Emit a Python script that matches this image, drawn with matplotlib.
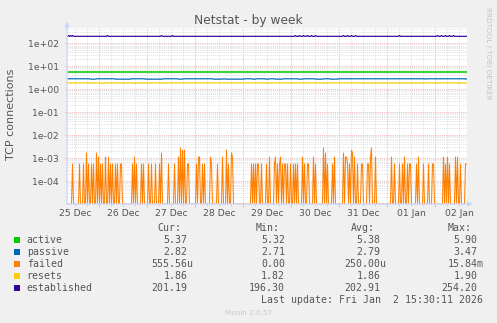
import numpy as np
import matplotlib
matplotlib.use('Agg')
import matplotlib.pyplot as plt
from matplotlib.ticker import FixedLocator, LogLocator, NullFormatter, FuncFormatter, MultipleLocator
import matplotlib.transforms as mtransforms

# ---------------- data ----------------
# time axis: hours since 25 Dec 00:00, one sample per 30 minutes
t_start, t_end = 8.0, 208.0
n_samples = 400
day_labels = ['25 Dec', '26 Dec', '27 Dec', '28 Dec', '29 Dec', '30 Dec', '31 Dec', '01 Jan', '02 Jan']
y_tick_values = [1e-4, 1e-3, 1e-2, 1e-1, 1e0, 1e1, 1e2]

series_names = ['active', 'passive', 'failed', 'resets', 'established']
series_colors = ['#00CC00', '#0066B3', '#FF8000', '#FFCC00', '#330099']

active_level = 5.37

passive_level = 2.84
passive_low = 2.74
passive_low_ranges = [(23, 28), (48, 63), (78, 95), (111, 115), (146, 155), (158, 176), (185, 188),
                      (198, 201), (208, 215), (231, 235), (248, 255), (263, 270), (358, 358), (398, 398)]

resets_level = 1.87
resets_low = 1.80
resets_low_idx = [25, 35, 36, 37, 53, 65, 66, 68, 70, 83, 98, 201, 223, 256, 258, 295, 297, 305, 307,
                  315, 317, 320, 326, 329, 331, 338, 345, 355, 371, 390]

established_level = 201.0
established_bumps = {1: 218, 3: 218, 5: 218, 40: 218, 94: 218, 105: 218, 228: 218, 232: 218, 236: 218,
                     240: 218, 244: 218, 248: 218, 276: 218, 280: 218, 284: 218, 288: 218, 332: 218,
                     370: 218, 374: 218, 378: 218, 382: 218, 386: 218}

# failed connection attempts per 30-minute sample
failed_counts = {5: 1, 12: 1, 16: 1, 19: 3, 21: 1, 24: 1, 26: 1, 29: 3, 31: 2, 33: 1, 35: 1, 38: 2,
                 41: 2, 43: 1, 45: 1, 48: 1, 50: 1, 53: 1, 54: 1, 65: 1, 67: 2, 69: 1, 74: 1, 76: 1,
                 81: 1, 84: 1, 88: 1, 92: 1, 94: 3, 101: 1, 107: 1, 111: 2, 113: 5, 115: 4, 117: 4,
                 120: 1, 121: 1, 129: 1, 131: 2, 132: 2, 135: 1, 137: 1, 143: 2, 144: 1, 150: 1,
                 155: 2, 159: 4, 161: 1, 164: 3, 165: 2, 184: 1, 186: 1, 188: 1, 190: 1, 191: 1,
                 194: 1, 199: 1, 202: 2, 207: 1, 208: 2, 210: 1, 212: 1, 213: 2, 215: 1, 217: 1,
                 218: 1, 220: 1, 223: 1, 226: 1, 228: 1, 230: 1, 235: 2, 237: 1, 240: 1, 241: 1,
                 246: 2, 248: 1, 256: 5, 258: 3, 260: 1, 265: 1, 267: 2, 276: 3, 278: 2, 279: 2,
                 280: 1, 282: 1, 284: 4, 285: 3, 287: 2, 290: 1, 294: 1, 295: 1, 300: 1, 301: 1,
                 303: 2, 304: 5, 308: 2, 324: 2, 327: 1, 332: 1, 335: 1, 337: 2, 340: 1, 342: 1,
                 343: 1, 349: 1, 351: 2, 356: 1, 361: 1, 365: 1, 366: 1, 376: 2, 378: 1, 380: 2,
                 382: 1, 388: 2, 390: 2, 393: 1, 398: 1, 399: 1}

cur_vals = [5.37, 2.82, 555.56e-6, 1.86, 201.19]
min_vals = [5.32, 2.71, 0.0, 1.82, 196.30]
avg_vals = [5.38, 2.79, 250.00e-6, 1.86, 202.91]
max_vals = [5.90, 3.47, 15.84e-3, 1.90, 254.20]
last_update = 'Last update: Fri Jan  2 15:30:11 2026'

# ---------------- build series ----------------
t = t_start + 0.5 * np.arange(n_samples) + 0.25
active = np.full(n_samples, active_level)
passive = np.full(n_samples, passive_level)
for a, b in passive_low_ranges:
    passive[a:b + 1] = passive_low
resets = np.full(n_samples, resets_level)
resets[resets_low_idx] = resets_low
established = np.full(n_samples, established_level)
for k, v in established_bumps.items():
    established[k] = v
failed = np.zeros(n_samples)
for k, v in failed_counts.items():
    failed[k] = v / 1800.0

# ---------------- figure ----------------
W, H, DPI = 497, 323, 100
TXT = '#555555'
fig = plt.figure(figsize=(W / DPI, H / DPI), dpi=DPI, facecolor='#F0F0F0')

PX_L, PX_R, PX_T, PX_B = 67, 467, 28, 204
ax = fig.add_axes([PX_L / W, 1 - PX_B / H, (PX_R - PX_L) / W, (PX_B - PX_T) / H])
ax.set_facecolor('white')

ymin = 1e-5
ymax = 10 ** (-5 + (PX_B - PX_T) / 22.96)
ax.set_yscale('log')
ax.set_xlim(t_start, t_end)
ax.set_ylim(ymin, ymax)

for s in ax.spines.values():
    s.set_visible(False)

# grid
ax.xaxis.set_major_locator(FixedLocator(np.arange(24, t_end, 24)))
ax.xaxis.set_minor_locator(MultipleLocator(6))
ax.xaxis.set_major_formatter(NullFormatter())
ax.yaxis.set_major_locator(FixedLocator(y_tick_values))
ax.yaxis.set_minor_locator(LogLocator(base=10, subs=np.arange(2, 10), numticks=20))
ax.yaxis.set_minor_formatter(NullFormatter())
ax.yaxis.set_major_formatter(FuncFormatter(lambda v, p: format(v, '.0e')))

dot = (0, (1.4, 1.4))
ax.grid(True, which='minor', color='#DADADA', linestyle=dot, linewidth=0.55)
ax.grid(True, which='major', color='#F0A8A8', linestyle=dot, linewidth=0.55)
ax.set_axisbelow(True)

ax.tick_params(axis='x', which='major', length=2, color='#F0A8A8', width=0.6)
ax.tick_params(axis='x', which='minor', length=1.2, color='#CCCCCC', width=0.6)
ax.tick_params(axis='y', which='major', length=1.5, color='#F0A8A8', width=0.6,
               labelsize=6.7, labelcolor=TXT, pad=4.5)
ax.tick_params(axis='y', which='minor', length=0)

# series
lw = 0.85
ax.plot(t, active, color=series_colors[0], lw=1.1, zorder=3)
ax.plot(t, passive, color=series_colors[1], lw=lw, zorder=3)
ax.plot(t, np.clip(failed, ymin, None), color=series_colors[2], lw=0.75, zorder=3)
ax.plot(t, resets, color=series_colors[3], lw=lw, zorder=3)
ax.plot(t, established, color=series_colors[4], lw=lw, zorder=3)

# axis lines with arrows
axis_col = '#CFD6F8'
ax.annotate('', xy=(0, (PX_B - 21.5) / (PX_B - PX_T)), xytext=(0, 0), xycoords='axes fraction',
            arrowprops=dict(arrowstyle='-|>', color=axis_col, lw=1, mutation_scale=7,
                            shrinkA=0, shrinkB=0), annotation_clip=False, zorder=5)
ax.annotate('', xy=((473 - PX_L) / (PX_R - PX_L), 0), xytext=(0, 0), xycoords='axes fraction',
            arrowprops=dict(arrowstyle='-|>', color=axis_col, lw=1, mutation_scale=7,
                            shrinkA=0, shrinkB=0), annotation_clip=False, zorder=5)

# day labels at noon
trans = mtransforms.blended_transform_factory(ax.transData, fig.transFigure)
for k, lab in enumerate(day_labels):
    ax.text(12 + 24 * k, 1 - 215.7 / H, lab, transform=trans, ha='center', va='baseline',
            fontsize=6.7, color=TXT, clip_on=False)

# titles
fig.text(248.5 / W, 1 - 24 / H, 'Netstat - by week', ha='center', va='baseline',
         fontsize=8.8, color=TXT)
fig.text(11 / W, 1 - 114 / H, 'TCP connections', rotation=90, ha='center', va='center',
         fontsize=8, color=TXT)
fig.text(488 / W, 1 - 53 / H, 'RRDTOOL / TOBI OETIKER', rotation=270, ha='center', va='center',
         fontsize=5.2, color='#C4C4C4')

# legend
LFS = 7.1
MONO = 'DejaVu Sans Mono'
char_w = 0.602 * LFS * DPI / 72.0


def si(v):
    if v == 0:
        return '%.2f' % 0.0, ' '
    av = abs(v)
    if av >= 1:
        return '%.2f' % v, ' '
    if av >= 1e-3:
        return '%.2f' % (v * 1e3), 'm'
    return '%.2f' % (v * 1e6), 'u'


col_edges = [193.5, 291.0, 386.7, 483.3]
headers = ['Cur:', 'Min:', 'Avg:', 'Max:']
for h, e in zip(headers, col_edges):
    fig.text((e - 2 * char_w) / W, 1 - 231 / H, h, ha='right', va='baseline', fontsize=LFS,
             family=MONO, color=TXT)

row_base = [243.3, 255.2, 267.1, 279.0, 290.8]
cols = [cur_vals, min_vals, avg_vals, max_vals]
for r, name in enumerate(series_names):
    yb = row_base[r]
    fig.patches.append(plt.Rectangle((14 / W, 1 - yb / H), 6 / W, 6 / H, transform=fig.transFigure,
                                     facecolor=series_colors[r], edgecolor='none'))
    fig.text(26.7 / W, 1 - yb / H, name, ha='left', va='baseline', fontsize=LFS, family=MONO,
             color=TXT)
    for c, e in enumerate(col_edges):
        num, unit = si(cols[c][r])
        if unit == ' ':
            s, xe = num, e - char_w
        else:
            s, xe = num + unit, e
        fig.text(xe / W, 1 - yb / H, s, ha='right', va='baseline', fontsize=LFS, family=MONO,
                 color=TXT)

fig.text(483.3 / W, 1 - 302.7 / H, last_update, ha='right', va='baseline', fontsize=LFS,
         family=MONO, color=TXT)
fig.text(248.5 / W, 1 - 315 / H, 'Munin 2.0.57', ha='center', va='baseline', fontsize=5.2,
         color='#C8C8C8')

fig.savefig('out.png', dpi=DPI, facecolor=fig.get_facecolor())
